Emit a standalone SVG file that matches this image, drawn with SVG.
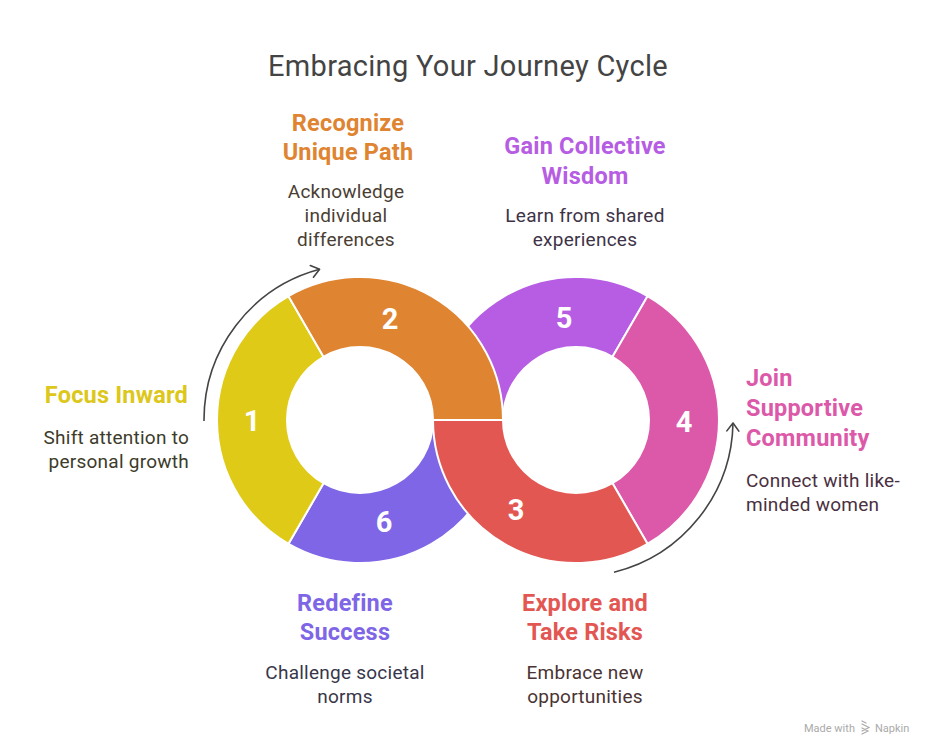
<svg xmlns="http://www.w3.org/2000/svg" width="936" height="756" viewBox="0 0 936 756">
<defs>
<style>
.seg{stroke:#fff;stroke-width:2;stroke-linejoin:round}
.num{font-family:Roboto,"Liberation Sans",sans-serif;font-weight:700;font-size:29px;fill:#fff;text-anchor:middle}
.hd{font-family:Roboto,"Liberation Sans",sans-serif;font-weight:700;font-size:23.5px;letter-spacing:0.2px}
.ds{font-family:Roboto,"Liberation Sans",sans-serif;font-size:19px;letter-spacing:0.25px}
.mid{text-anchor:middle}
.end{text-anchor:end}
.arc{fill:none;stroke:#444;stroke-width:1.6}
.ft{font-family:Roboto,"Liberation Sans",sans-serif;font-size:11px;fill:#aaa}
</style>
<marker id="ah" markerUnits="userSpaceOnUse" markerWidth="20" markerHeight="20" viewBox="-10 -10 20 20" refX="0" refY="0" orient="auto">
<path d="M -8 -6 L 0 0 L -8 6" fill="none" stroke="#444" stroke-width="1.6" stroke-linecap="round" stroke-linejoin="round"/>
</marker>
</defs>
<rect width="936" height="756" fill="#fff"/>
<text x="468" y="76" font-family="Roboto,'Liberation Sans',sans-serif" font-size="29" letter-spacing="0.3" fill="#444" text-anchor="middle">Embracing Your Journey Cycle</text>

<g id="seg6"><path class="seg" fill="#7E66E6" d="M 503 420 A 143 143 0 0 1 288.5 543.84 L 323.5 483.22 A 73 73 0 0 0 433 420 Z"/></g>
<g id="seg5"><path class="seg" fill="#B65DE3" d="M 433 420 A 143 143 0 0 1 647.5 296.16 L 612.5 356.78 A 73 73 0 0 0 503 420 Z"/></g>
<g id="seg1"><path class="seg" fill="#DFCA17" d="M 288.5 543.84 A 143 143 0 0 1 288.5 296.16 L 323.5 356.78 A 73 73 0 0 0 323.5 483.22 Z"/></g>
<g id="seg4"><path class="seg" fill="#DC59A9" d="M 647.5 296.16 A 143 143 0 0 1 647.5 543.84 L 612.5 483.22 A 73 73 0 0 0 612.5 356.78 Z"/></g>
<g id="seg2"><path class="seg" fill="#DF8431" d="M 288.5 296.16 A 143 143 0 0 1 503 420 L 433 420 A 73 73 0 0 0 323.5 356.78 Z"/></g>
<g id="seg3"><path class="seg" fill="#E35753" d="M 647.5 543.84 A 143 143 0 0 1 433 420 L 503 420 A 73 73 0 0 0 612.5 483.22 Z"/></g>

<g id="numbers">
<text class="num" x="252" y="431">1</text>
<text class="num" x="390" y="329">2</text>
<text class="num" x="516" y="520">3</text>
<text class="num" x="684" y="432">4</text>
<text class="num" x="564" y="328">5</text>
<text class="num" x="384" y="532">6</text>
</g>

<g id="connectors">
<path class="arc" d="M 204 421 A 156 156 0 0 1 319.6 269.3" marker-end="url(#ah)"/>
<path class="arc" d="M 614 572.3 A 157 157 0 0 0 733 423" marker-end="url(#ah)"/>
</g>

<g id="label1">
<text class="hd end" x="188" y="403" fill="#DCC71A">Focus Inward</text>
<text class="ds end" x="189" y="444" fill="#3D3B2A">Shift attention to</text>
<text class="ds end" x="189" y="468" fill="#3D3B2A">personal growth</text>
</g>
<g id="label2">
<text class="hd mid" x="348" y="131" fill="#DF8431">Recognize</text>
<text class="hd mid" x="348" y="160" fill="#DF8431">Unique Path</text>
<text class="ds mid" x="346" y="198" fill="#4A3E33">Acknowledge</text>
<text class="ds mid" x="346" y="222" fill="#4A3E33">individual</text>
<text class="ds mid" x="346" y="246" fill="#4A3E33">differences</text>
</g>
<g id="label5">
<text class="hd mid" x="585" y="154" fill="#B65DE3">Gain Collective</text>
<text class="hd mid" x="585" y="184" fill="#B65DE3">Wisdom</text>
<text class="ds mid" x="585" y="222" fill="#3E3347">Learn from shared</text>
<text class="ds mid" x="585" y="246" fill="#3E3347">experiences</text>
</g>
<g id="label4">
<text class="hd" x="746" y="386" fill="#DC59A9">Join</text>
<text class="hd" x="746" y="416" fill="#DC59A9">Supportive</text>
<text class="hd" x="746" y="446" fill="#DC59A9">Community</text>
<text class="ds" x="746" y="487" fill="#4A3040">Connect with like-</text>
<text class="ds" x="746" y="511" fill="#4A3040">minded women</text>
</g>
<g id="label6">
<text class="hd mid" x="345" y="611" fill="#7E66E6">Redefine</text>
<text class="hd mid" x="345" y="640" fill="#7E66E6">Success</text>
<text class="ds mid" x="345" y="679" fill="#38364A">Challenge societal</text>
<text class="ds mid" x="345" y="703" fill="#38364A">norms</text>
</g>
<g id="label3">
<text class="hd mid" x="585" y="611" fill="#E35753">Explore and</text>
<text class="hd mid" x="585" y="640" fill="#E35753">Take Risks</text>
<text class="ds mid" x="585" y="679" fill="#4A3333">Embrace new</text>
<text class="ds mid" x="585" y="703" fill="#4A3333">opportunities</text>
</g>

<g id="footer">
<text class="ft" x="804" y="732">Made with</text>
<path d="M 862 724 L 869 727.5 L 862 731 M 862 728 L 868 731 L 862 734 M 862 721 L 866 723" fill="none" stroke="#aaa" stroke-width="1.2" stroke-linecap="round"/>
<text class="ft" x="875" y="732">Napkin</text>
</g>
</svg>
